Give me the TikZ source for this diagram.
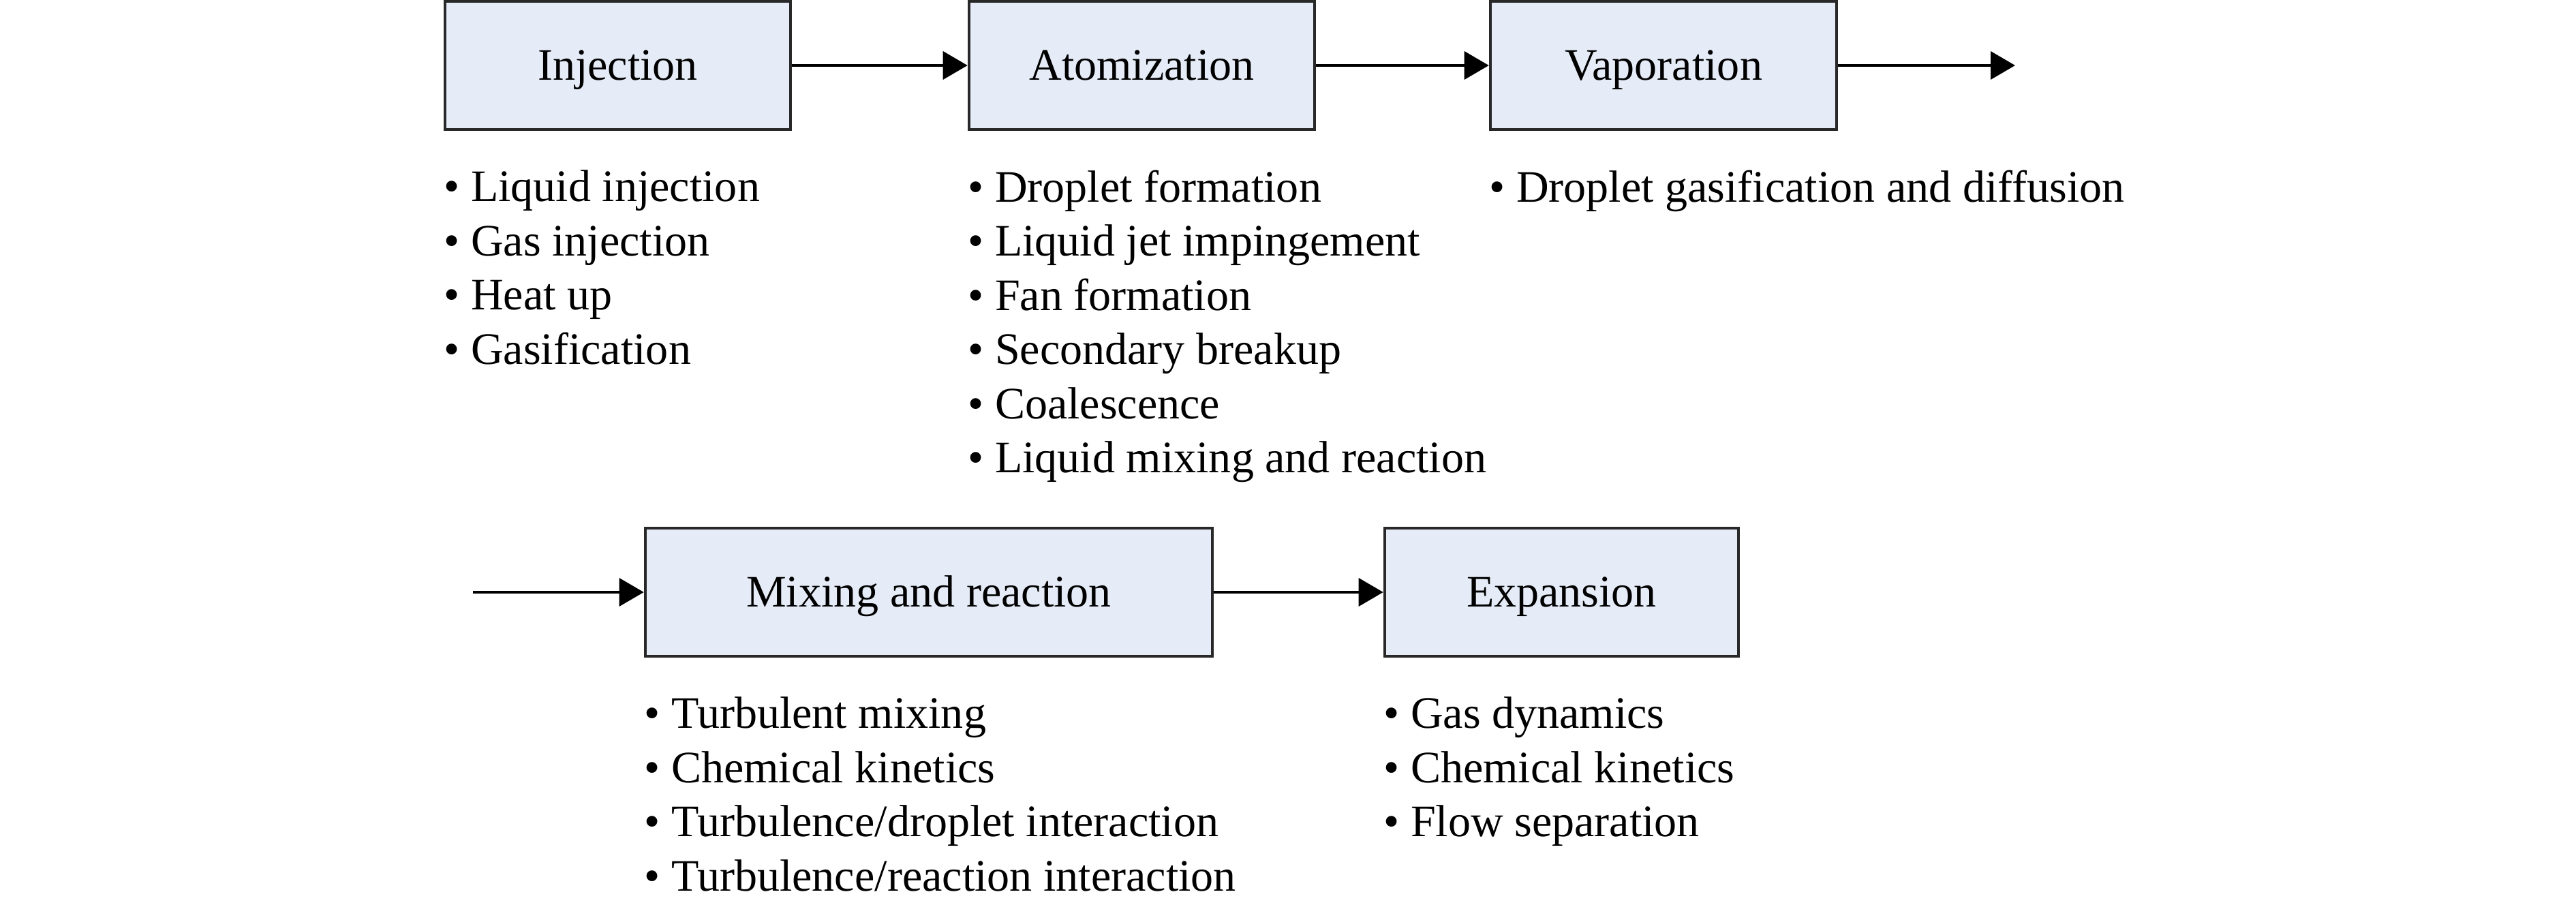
\documentclass[tikz,border=0pt]{standalone}
\usepackage{fontspec}
\setmainfont{Liberation Serif}
\usetikzlibrary{arrows.meta}
\definecolor{stagefill}{RGB}{230,236,247}
\definecolor{stageline}{RGB}{40,40,40}
\tikzset{
  stage/.style={draw=stageline, line width=1.3pt, fill=stagefill, rectangle,
    minimum height=1.88cm, text height=1.2em, text depth=0pt, inner sep=0pt},
  items/.style={align=left, inner sep=0pt, anchor=north west},
  flow/.style={-{Triangle[length=0.36cm,width=0.41cm]}, line width=1.1pt}
}
\begin{document}
\begin{tikzpicture}[font=\fontsize{18.8}{22.6}\selectfont]
\useasboundingbox (0,0) rectangle (37.8,-13.27);
% top row
\node[stage, minimum width=5.07cm] (inj) at (9.065,-0.96) {Injection};
\node[stage, minimum width=5.07cm] (atom) at (16.755,-0.96) {Atomization};
\node[stage, minimum width=5.08cm] (vap) at (24.41,-0.96) {Vaporation};
\coordinate (vapout) at (29.57,-0.96);
% bottom row
\coordinate (mixin) at (6.94,-8.69);
\node[stage, minimum width=8.32cm] (mix) at (13.63,-8.69) {Mixing and reaction};
\node[stage, minimum width=5.19cm] (exp) at (22.915,-8.69) {Expansion};
% item lists
\node[items] (injl) at ([yshift=-0.57cm]inj.south west) {• Liquid injection\\ • Gas injection\\ • Heat up\\ • Gasification};
\node[items] (atoml) at ([yshift=-0.57cm]atom.south west) {• Droplet formation\\ • Liquid jet impingement\\ • Fan formation\\ • Secondary breakup\\ • Coalescence\\ • Liquid mixing and reaction};
\node[items] (vapl) at ([yshift=-0.57cm]vap.south west) {• Droplet gasification and diffusion};
\node[items] (mixl) at ([yshift=-0.57cm]mix.south west) {• Turbulent mixing\\ • Chemical kinetics\\ • Turbulence/droplet interaction\\ • Turbulence/reaction interaction};
\node[items] (expl) at ([yshift=-0.57cm]exp.south west) {• Gas dynamics\\ • Chemical kinetics\\ • Flow separation};
% connectors
\draw[flow] (inj) -- (atom);
\draw[flow] (atom) -- (vap);
\draw[flow] (vap) -- (vapout);
\draw[flow] (mixin) -- (mix);
\draw[flow] (mix) -- (exp);
\end{tikzpicture}
\end{document}
